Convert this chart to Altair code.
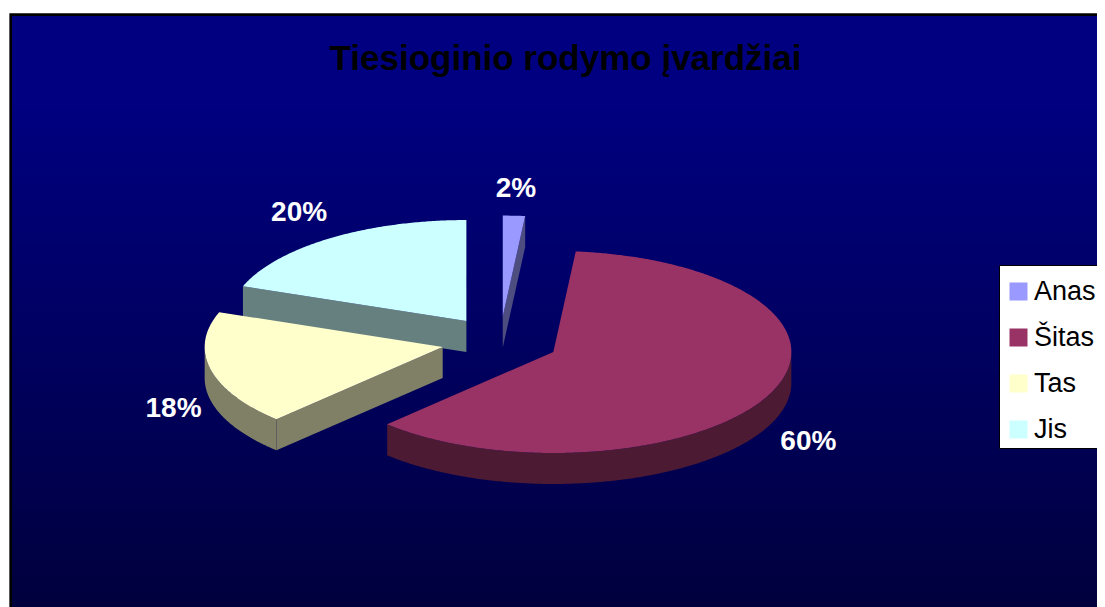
import numpy as np
import pandas as pd
import altair as alt

# ---- chart values ----
categories = ["Anas", "Šitas", "Tas", "Jis"]
values = [1.5, 60.8, 18.3, 19.4]
labels = ["2%", "60%", "18%", "20%"]
top_colors = ["#9999FF", "#993366", "#FFFFCC", "#CCFFFF"]
side_colors = ["#4D4D80", "#4D1A33", "#808066", "#668080"]
title_text = "Tiesioginio rodymo įvardžiai"

# ---- layout of the 3-D pie ----
W, H = 1089, 599
RX, RY = 238.0, 101.0       # px per unit radius
CX, CY = 492.0, 333.5       # pie centre in plot px
DEPTH = 31.0 / RY           # thickness in y-units
EXPLODE = 0.247             # radial explosion, in radii
FONT = "Liberation Sans"
label_nudge = [(2, -27), (39, 48), (-37, 40), (-31, -25)]  # px from rim to label

x_scale = alt.Scale(domain=[-CX / RX, (W - CX) / RX], range=[0, W], nice=False, zero=False)
y_scale = alt.Scale(domain=[-(H - CY) / RY, CY / RY], range=[H, 0], nice=False, zero=False)


def arc(a0, a1, ox, oy, drop=0.0):
    t = np.radians(np.linspace(a0, a1, max(int(abs(a1 - a0)) * 2, 2)))
    return list(zip(ox + np.sin(t), oy + np.cos(t) - drop))


tops, sides, texts = [], [], []


def add(rows, pts, name, poly, colour):
    for i, (px, py) in enumerate(pts):
        rows.append(dict(x=px, y=py, slice=name, poly=poly, pt=i, shade=colour))


start = 0.0
for i, (name, v) in enumerate(zip(categories, values)):
    a0, a1 = start, start + v * 3.6
    start = a1
    mid = np.radians((a0 + a1) / 2)
    ox, oy = EXPLODE * np.sin(mid), EXPLODE * np.cos(mid)
    add(tops, [(ox, oy)] + arc(a0, a1, ox, oy), name, name, top_colors[i])

    # outer rim: only the part of the arc that faces the viewer
    lo, hi = max(a0, 90.0), min(a1, 270.0)
    if lo < hi:
        rim = arc(lo, hi, ox, oy) + arc(hi, lo, ox, oy, DEPTH)
        add(sides, rim, name, name + "-rim", side_colors[i])

    # cut faces that face the viewer
    def cut(a, tag):
        r = arc(a, a, ox, oy)[0]
        quad = [(ox, oy), r, (r[0], r[1] - DEPTH), (ox, oy - DEPTH)]
        add(sides, quad, name, name + tag, side_colors[i])

    if name in ("Tas", "Jis"):
        cut(a0, "-cut0")
    if name == "Anas":
        cut(a1, "-cut1")

    nx, ny = label_nudge[i]
    texts.append(dict(x=ox + np.sin(mid) + nx / RX, y=oy + np.cos(mid) - ny / RY, t=labels[i]))

tops_df, sides_df, text_df = pd.DataFrame(tops), pd.DataFrame(sides), pd.DataFrame(texts)
one = pd.DataFrame({"k": [0]})

X = alt.X("x:Q", scale=x_scale, axis=None)
Y = alt.Y("y:Q", scale=y_scale, axis=None)

background = alt.Chart(one).mark_rect(
    fill=alt.Gradient(
        gradient="linear", x1=0, x2=0, y1=0, y2=1,
        stops=[alt.GradientStop(offset=0, color="#000080"),
               alt.GradientStop(offset=0.15, color="#000080"),
               alt.GradientStop(offset=1, color="#00003C")],
    ),
    stroke="#000000", strokeWidth=2.7,
).encode(x=alt.value(2.7), x2=alt.value(W + 10), y=alt.value(6.7), y2=alt.value(H + 10))

side_layer = alt.Chart(sides_df).mark_line(filled=True, strokeWidth=0).encode(
    x=X, y=Y, order=alt.Order("pt:Q"), detail="poly:N",
    fill=alt.Fill("shade:N", scale=None, legend=None),
)

top_layer = alt.Chart(tops_df).mark_line(filled=True, strokeWidth=0).encode(
    x=X, y=Y, order=alt.Order("pt:Q"),
    fill=alt.Fill(
        "slice:N",
        scale=alt.Scale(domain=categories, range=top_colors),
        sort=categories,
        legend=alt.Legend(
            title=None, orient="none", legendX=997, legendY=270, padding=0,
            symbolType="square", symbolSize=324, symbolStrokeWidth=0,
            labelFont=FONT, labelFontSize=27, labelColor="#000000",
            labelLimit=200, labelOffset=2, rowPadding=18,
        ),
    ),
)

legend_box = alt.Chart(one).mark_rect(fill="#FFFFFF", stroke="#000000", strokeWidth=1).encode(
    x=alt.value(991.5), x2=alt.value(W + 10), y=alt.value(257.5), y2=alt.value(440.5)
)

label_layer = alt.Chart(text_df).mark_text(
    font=FONT, fontWeight="bold", fontSize=28, color="#FFFFFF", align="center", baseline="middle"
).encode(x=X, y=Y, text="t:N")

title_layer = alt.Chart(pd.DataFrame({"t": [title_text]})).mark_text(
    font=FONT, fontWeight="bold", fontSize=35, color="#000000", align="center", baseline="alphabetic"
).encode(x=alt.value(557.5), y=alt.value(62), text="t:N")

chart = (
    alt.layer(background, legend_box, side_layer, top_layer, label_layer, title_layer)
    .resolve_scale(fill="independent")
    .properties(width=W, height=H, padding=0, background="#FFFFFF",
                autosize=alt.AutoSizeParams(type="none"))
    .configure_view(stroke=None)
)

chart.save("out.html", embed_options={"renderer": "svg", "actions": False})
